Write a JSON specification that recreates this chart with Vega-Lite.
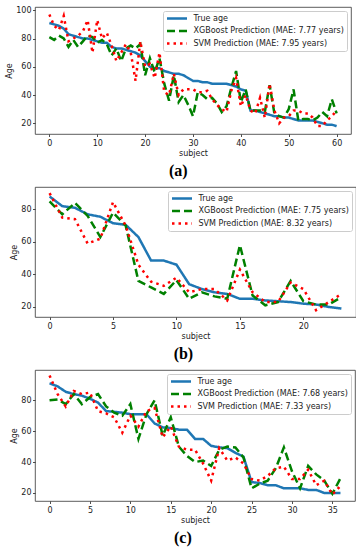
{
"$schema": "https://vega.github.io/schema/vega-lite/v6.json",
"padding": {"left": 5, "top": 5, "right": 4, "bottom": 0},
"datasets": {
"a": [
{"s":0,"t":91,"x":81,"v":97},{"s":1,"t":90,"x":79,"v":89},{"s":2,"t":89,"x":82,"v":86},{"s":3,"t":87,"x":80,"v":96},{"s":4,"t":83,"x":74,"v":78},
{"s":5,"t":82,"x":79,"v":80},{"s":6,"t":81,"x":74,"v":82},{"s":7,"t":80,"x":78,"v":85},{"s":8,"t":80,"x":82,"v":93},{"s":9,"t":79,"x":81,"v":70},
{"s":10,"t":78,"x":77,"v":93},{"s":11,"t":77,"x":79,"v":80},{"s":12,"t":77,"x":76,"v":84},{"s":13,"t":74,"x":68,"v":75},{"s":14,"t":73,"x":73,"v":64},
{"s":15,"t":73,"x":64,"v":70},{"s":16,"t":72,"x":73,"v":76},{"s":17,"t":71,"x":75,"v":70},{"s":18,"t":70,"x":73,"v":50},{"s":19,"t":68,"x":76,"v":78},
{"s":20,"t":64,"x":54,"v":60},{"s":21,"t":60,"x":66,"v":62},{"s":22,"t":59,"x":56,"v":52},{"s":23,"t":59,"x":66,"v":70},{"s":24,"t":57,"x":48,"v":42},
{"s":25,"t":56,"x":36,"v":40},{"s":26,"t":55,"x":54,"v":55},{"s":27,"t":55,"x":35,"v":40},{"s":28,"t":54,"x":40,"v":44},{"s":29,"t":52,"x":33,"v":44},
{"s":30,"t":50,"x":25,"v":44},{"s":31,"t":50,"x":42,"v":42},{"s":32,"t":49,"x":40,"v":42},{"s":33,"t":49,"x":37,"v":43},{"s":34,"t":48,"x":38,"v":37},
{"s":35,"t":48,"x":34,"v":33},{"s":36,"t":48,"x":28,"v":30},{"s":37,"t":48,"x":32,"v":28},{"s":38,"t":47,"x":45,"v":43},{"s":39,"t":46,"x":57,"v":52},
{"s":40,"t":44,"x":35,"v":32},{"s":41,"t":43,"x":44,"v":40},{"s":42,"t":29,"x":29,"v":29},{"s":43,"t":29,"x":29,"v":27},{"s":44,"t":28,"x":29,"v":38},
{"s":45,"t":27,"x":28,"v":24},{"s":46,"t":26,"x":47,"v":48},{"s":47,"t":25,"x":27,"v":29},{"s":48,"t":25,"x":25,"v":20},{"s":49,"t":24,"x":24,"v":24},
{"s":50,"t":24,"x":30,"v":25},{"s":51,"t":23,"x":44,"v":29},{"s":52,"t":22,"x":22,"v":29},{"s":53,"t":22,"x":23,"v":27},{"s":54,"t":22,"x":23,"v":27},
{"s":55,"t":22,"x":22,"v":24},{"s":56,"t":21,"x":24,"v":18},{"s":57,"t":20,"x":28,"v":18},{"s":58,"t":19,"x":25,"v":22},{"s":59,"t":19,"x":37,"v":25},
{"s":60,"t":18,"x":27,"v":29}
],
"b": [
{"s":0,"t":88,"x":85,"v":90},{"s":1,"t":82,"x":77,"v":75},{"s":2,"t":81,"x":84,"v":74},{"s":3,"t":77,"x":76,"v":59},{"s":4,"t":75.5,"x":63,"v":62},
{"s":5,"t":71.5,"x":78,"v":84.5},{"s":6,"t":70.5,"x":70,"v":70},{"s":7,"t":63,"x":36,"v":46},{"s":8,"t":48.5,"x":32,"v":35.5},{"s":9,"t":48.5,"x":28,"v":33},
{"s":10,"t":46,"x":36.5,"v":38},{"s":11,"t":34,"x":25,"v":29},{"s":12,"t":31,"x":29,"v":31},{"s":13,"t":29,"x":26.5,"v":31},{"s":14,"t":28,"x":25,"v":24},
{"s":15,"t":25,"x":58,"v":43},{"s":16,"t":25,"x":27,"v":29},{"s":17,"t":24,"x":21,"v":23},{"s":18,"t":23.5,"x":23,"v":23},{"s":19,"t":23,"x":36,"v":35},
{"s":20,"t":22,"x":23.5,"v":31},{"s":21,"t":21.5,"x":21.5,"v":18},{"s":22,"t":20,"x":21.5,"v":23},{"s":23,"t":19,"x":26,"v":28}
],
"c": [
{"s":0,"t":91,"x":80,"v":96},{"s":1,"t":89,"x":80.5,"v":84},{"s":2,"t":85.5,"x":77.5,"v":76},{"s":3,"t":84,"x":84,"v":86},{"s":4,"t":83,"x":77.5,"v":84},
{"s":5,"t":81,"x":82,"v":85},{"s":6,"t":78.5,"x":84,"v":73},{"s":7,"t":73,"x":76,"v":71.5},{"s":8,"t":72.5,"x":72,"v":69},{"s":9,"t":72,"x":70,"v":59},
{"s":10,"t":71,"x":77.5,"v":70},{"s":11,"t":71,"x":55,"v":63},{"s":12,"t":71,"x":71,"v":73},{"s":13,"t":65,"x":80,"v":75},{"s":14,"t":62.5,"x":57,"v":56},
{"s":15,"t":62,"x":69,"v":63},{"s":16,"t":61,"x":50,"v":50},{"s":17,"t":61,"x":44,"v":48},{"s":18,"t":55,"x":40,"v":48},{"s":19,"t":55,"x":41,"v":39},
{"s":20,"t":50.5,"x":37.5,"v":28},{"s":21,"t":49.5,"x":48,"v":49},{"s":22,"t":49,"x":50,"v":41},{"s":23,"t":46,"x":49.5,"v":43},{"s":24,"t":43.5,"x":43,"v":39},
{"s":25,"t":27,"x":23,"v":29},{"s":26,"t":26.5,"x":26,"v":28},{"s":27,"t":25,"x":28,"v":31},{"s":28,"t":25,"x":36,"v":36},{"s":29,"t":23,"x":49.5,"v":37},
{"s":30,"t":23,"x":34,"v":29},{"s":31,"t":23,"x":23,"v":29},{"s":32,"t":22,"x":37.5,"v":35},{"s":33,"t":22,"x":32,"v":25},{"s":34,"t":20,"x":28,"v":28},
{"s":35,"t":20,"x":19.5,"v":19},{"s":36,"t":20,"x":29.5,"v":24.5}
]
},
"concat": [
{
"width": 316, "height": 127,
"data": {"name": "a"},
"transform": [{"fold": ["t","x","v"], "as": ["k","age"]}],
"mark": {"type": "line", "strokeWidth": 2.5},
"encoding": {
"x": {"field": "s", "type": "quantitative", "scale": {"domain": [-3,63], "nice": false, "zero": false}, "axis": {"values": [0,10,20,30,40,50,60], "title": "subject"}},
"y": {"field": "age", "type": "quantitative", "scale": {"domain": [12.4,102.3], "nice": false, "zero": false}, "axis": {"values": [20,40,60,80,100], "title": "Age"}},
"color": {"field": "k", "type": "nominal", "scale": {"domain": ["t","x","v"], "range": ["#1f77b4","#008000","#ff0000"]}, "legend": {"title": null, "labelExpr": "datum.value == 't' ? 'True age' : datum.value == 'x' ? 'XGBoost Prediction (MAE: 7.77 years)' : 'SVM Prediction (MAE: 7.95 years)'"}},
"strokeDash": {"field": "k", "type": "nominal", "scale": {"domain": ["t","x","v"], "range": [[1,0],[8,4],[2.5,4]]}, "legend": {"title": null, "labelExpr": "datum.value == 't' ? 'True age' : datum.value == 'x' ? 'XGBoost Prediction (MAE: 7.77 years)' : 'SVM Prediction (MAE: 7.95 years)'"}}
},
"title": {"text": "(a)"}
},
{
"width": 321, "height": 130,
"data": {"name": "b"},
"transform": [{"fold": ["t","x","v"], "as": ["k","age"]}],
"mark": {"type": "line", "strokeWidth": 2.5},
"encoding": {
"x": {"field": "s", "type": "quantitative", "scale": {"domain": [-1.15,24.15], "nice": false, "zero": false}, "axis": {"values": [0,5,10,15,20], "title": "subject"}},
"y": {"field": "age", "type": "quantitative", "scale": {"domain": [13.8,93.8], "nice": false, "zero": false}, "axis": {"values": [20,40,60,80], "title": "Age"}},
"color": {"field": "k", "type": "nominal", "scale": {"domain": ["t","x","v"], "range": ["#1f77b4","#008000","#ff0000"]}, "legend": {"title": null, "labelExpr": "datum.value == 't' ? 'True age' : datum.value == 'x' ? 'XGBoost Prediction (MAE: 7.75 years)' : 'SVM Prediction (MAE: 8.32 years)'"}},
"strokeDash": {"field": "k", "type": "nominal", "scale": {"domain": ["t","x","v"], "range": [[1,0],[8,4],[2.5,4]]}, "legend": {"title": null, "labelExpr": "datum.value == 't' ? 'True age' : datum.value == 'x' ? 'XGBoost Prediction (MAE: 7.75 years)' : 'SVM Prediction (MAE: 8.32 years)'"}}
},
"title": {"text": "(b)"}
},
{
"width": 320, "height": 131,
"data": {"name": "c"},
"transform": [{"fold": ["t","x","v"], "as": ["k","age"]}],
"mark": {"type": "line", "strokeWidth": 2.5},
"encoding": {
"x": {"field": "s", "type": "quantitative", "scale": {"domain": [-1.8,37.8], "nice": false, "zero": false}, "axis": {"values": [0,5,10,15,20,25,30,35], "title": "subject"}},
"y": {"field": "age", "type": "quantitative", "scale": {"domain": [14.8,99.6], "nice": false, "zero": false}, "axis": {"values": [20,40,60,80], "title": "Age"}},
"color": {"field": "k", "type": "nominal", "scale": {"domain": ["t","x","v"], "range": ["#1f77b4","#008000","#ff0000"]}, "legend": {"title": null, "labelExpr": "datum.value == 't' ? 'True age' : datum.value == 'x' ? 'XGBoost Prediction (MAE: 7.68 years)' : 'SVM Prediction (MAE: 7.33 years)'"}},
"strokeDash": {"field": "k", "type": "nominal", "scale": {"domain": ["t","x","v"], "range": [[1,0],[8,4],[2.5,4]]}, "legend": {"title": null, "labelExpr": "datum.value == 't' ? 'True age' : datum.value == 'x' ? 'XGBoost Prediction (MAE: 7.68 years)' : 'SVM Prediction (MAE: 7.33 years)'"}}
},
"title": {"text": "(c)"}
}
],
"columns": 1,
"align": "none",
"spacing": 6,
"resolve": {"scale": {"x": "independent", "y": "independent", "color": "independent", "strokeDash": "independent"}, "legend": {"color": "independent", "strokeDash": "independent"}},
"config": {
"font": "DejaVu Sans",
"view": {"stroke": "#333", "strokeWidth": 0.8},
"axis": {"grid": false, "domain": false, "tickSize": 2.5, "tickColor": "#222", "tickWidth": 0.8, "labelFontSize": 8, "labelColor": "#222", "labelPadding": 1.5, "titleFontSize": 8, "titleFontWeight": "normal", "titleColor": "#222", "titlePadding": 2},
"axisX": {"labelPadding": 2.5, "titlePadding": 2},
"legend": {"orient": "top-right", "offset": 4, "padding": 2.5, "strokeColor": "#ccc", "fillColor": "rgba(255,255,255,0.8)", "cornerRadius": 2, "symbolType": "stroke", "symbolSize": 400, "symbolStrokeWidth": 2.5, "labelFontSize": 8, "labelColor": "#222", "labelOffset": 5, "clipHeight": 10, "rowPadding": 2.5, "labelLimit": 300},
"title": {"font": "Liberation Serif", "fontSize": 16, "fontWeight": "bold", "color": "#000", "orient": "bottom", "anchor": "middle", "frame": "bounds", "offset": 6}
}
}
